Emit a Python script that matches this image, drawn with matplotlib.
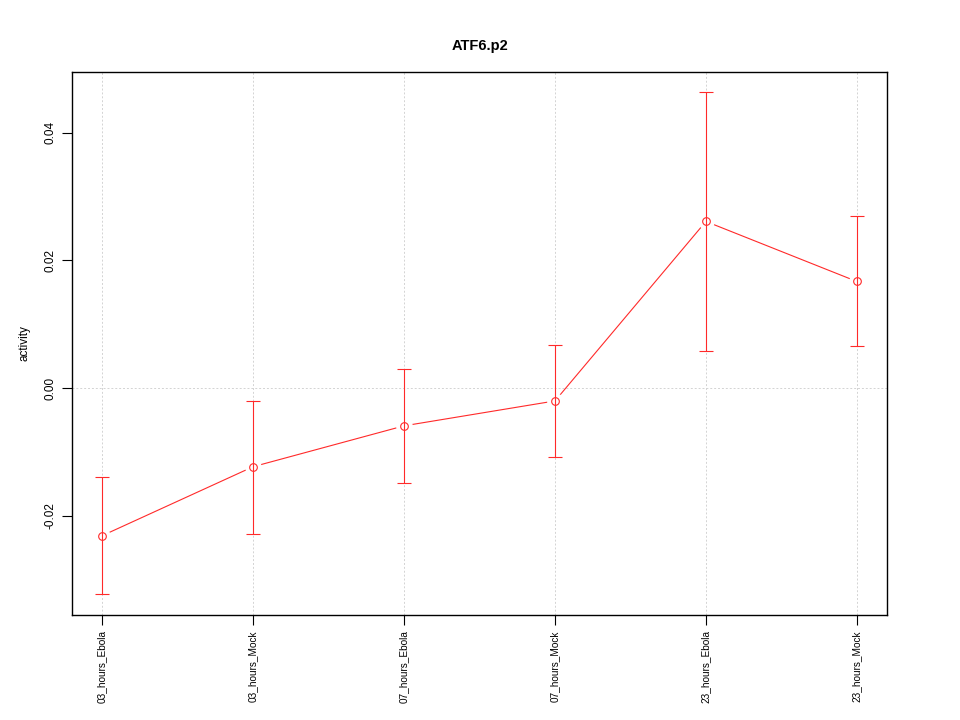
import matplotlib
matplotlib.use("Agg")
import matplotlib.pyplot as plt

categories = ["03_hours_Ebola", "03_hours_Mock", "07_hours_Ebola",
              "07_hours_Mock", "23_hours_Ebola", "23_hours_Mock"]
values = [-0.0231, -0.0123, -0.0059, -0.0020, 0.0261, 0.0167]
upper = [-0.0139, -0.0020, 0.0030, 0.0067, 0.0464, 0.0269]
lower = [-0.0323, -0.0228, -0.0148, -0.0108, 0.0058, 0.0066]
yticks = [-0.02, 0.00, 0.02, 0.04]
ytick_labels = ["-0.02", "0.00", "0.02", "0.04"]

plt.rcParams['font.family'] = ['Liberation Sans', 'DejaVu Sans']

fig = plt.figure(figsize=(9.6, 7.2), dpi=100)
ax = fig.add_axes([0.075, 0.146, 0.849, 0.754])

x = list(range(1, len(categories) + 1))

for xi in x:
    ax.axvline(xi, color='#d3d3d3', linestyle=(0, (2, 2)), linewidth=0.7, zorder=0)
ax.axhline(0, color='#d3d3d3', linestyle=(0, (2, 2)), linewidth=0.7, zorder=0)

ax.plot(x, values, color='#ff2a2a', linewidth=0.8, zorder=1)
ax.plot(x, values, linestyle='none', marker='o', markersize=11,
        markerfacecolor='white', markeredgecolor='white', zorder=2)
yerr = [[v - l for v, l in zip(values, lower)], [u - v for v, u in zip(values, upper)]]
ax.errorbar(x, values, yerr=yerr, fmt='none', ecolor='#ff2a2a', elinewidth=0.8,
            capsize=5, capthick=0.8, zorder=3)
ax.plot(x, values, linestyle='none', marker='o', markersize=5.5,
        markerfacecolor='none', markeredgecolor='#ff2a2a', markeredgewidth=0.8, zorder=4)

ax.set_xlim(0.8, 6.2)
ax.set_ylim(-0.0355, 0.0495)
ax.set_xticks(x)
ax.set_xticklabels(categories, rotation=90, fontsize=7.2)
ax.set_yticks(yticks)
ax.set_yticklabels(ytick_labels, rotation=90, fontsize=8.5, va='center')
ax.tick_params(axis='both', length=7, width=0.8, color='black', pad=4)
ax.set_ylabel("activity", fontsize=8.5, labelpad=10)
ax.set_title("ATF6.p2", fontsize=10.5, fontweight='bold', pad=16)
for s in ax.spines.values():
    s.set_linewidth(1)
    s.set_color('black')

fig.savefig("out.png", dpi=100)
